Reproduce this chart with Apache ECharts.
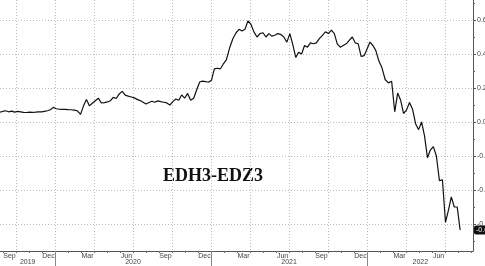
<!DOCTYPE html>
<html><head><meta charset="utf-8">
<script src="https://cdn.jsdelivr.net/npm/echarts@6/dist/echarts.min.js"></script>
<style>html,body{margin:0;padding:0;background:#fff}#c{width:485px;height:266px}</style>
</head><body><div id="c"></div>
<script>
// Weekly observations starting from this date
const startDate = '2019-08-24';
const values = [
0.057,0.062,0.066,0.060,0.064,0.058,0.062,0.060,0.057,0.056,
0.058,0.057,0.058,0.060,0.060,0.063,0.066,0.072,0.086,0.078,
0.075,0.074,0.074,0.073,0.072,0.070,0.066,0.045,0.095,0.133,
0.095,0.110,0.125,0.140,0.112,0.114,0.118,0.125,0.145,0.138,
0.165,0.180,0.158,0.152,0.147,0.142,0.133,0.126,0.116,0.106,
0.115,0.122,0.116,0.124,0.120,0.116,0.112,0.100,0.120,0.135,
0.128,0.159,0.140,0.168,0.128,0.140,0.190,0.235,0.240,0.238,
0.234,0.245,0.312,0.316,0.312,0.340,0.365,0.435,0.490,0.525,
0.545,0.535,0.545,0.595,0.575,0.530,0.500,0.520,0.525,0.500,
0.520,0.505,0.510,0.520,0.515,0.500,0.470,0.520,0.455,0.380,
0.410,0.400,0.450,0.440,0.465,0.460,0.465,0.490,0.510,0.530,
0.520,0.540,0.520,0.460,0.440,0.450,0.460,0.480,0.500,0.465,
0.460,0.385,0.390,0.430,0.470,0.450,0.420,0.360,0.320,0.250,
0.230,0.240,0.060,0.170,0.130,0.050,0.070,0.115,0.075,-0.010,
-0.045,0.000,-0.080,-0.210,-0.165,-0.145,-0.200,-0.345,-0.340,-0.590,
-0.520,-0.440,-0.500,-0.500,-0.635
];
const monthNames = ['Jan','Feb','Mar','Apr','May','Jun','Jul','Aug','Sep','Oct','Nov','Dec'];
const yTickValues = [-0.6,-0.4,-0.2,0,0.2,0.4,0.6];
const yMinorValues = [-0.7,-0.5,-0.3,-0.1,0.1,0.3,0.5,0.7];
const monthLabelNames = ['Sep','Dec','Mar','Jun','Sep','Dec','Mar','Jun','Sep','Dec','Mar','Jun'];
const yearLabels = ['2019','2020','2021','2022'];
const yearLabelPos = [9.9, 18, 30, 40.1];   // month-index positions (Jan 2019 = 0)
const yearBreaks = [12, 24, 36];
const titleText = 'EDH3-EDZ3';

// month index helpers (Jan 1 2019 = 0)
function monthIndex(d){
  const y=d.getUTCFullYear(), m=d.getUTCMonth(), day=d.getUTCDate();
  const dim=new Date(Date.UTC(y,m+1,0)).getUTCDate();
  return (y-2019)*12+m+(day-1)/dim;
}
const s0=new Date(startDate+'T00:00:00Z');
const dates=values.map((_,i)=>new Date(s0.getTime()+i*7*86400000));
const seriesData=values.map((v,i)=>[monthIndex(dates[i]),v]);

const xMin=7.77, xMax=44.15;
const quarterGrid=[]; for(let m=9;m<=42;m+=3) quarterGrid.push(m);
const monthTicks=[]; for(let m=8;m<=44;m++) monthTicks.push(m);
const monthLabelPos=monthLabelNames.map((_,i)=>8.5+3*i);
const yMin=-0.7588, yMax=0.7176;
const lastVal=values[values.length-1];
const font='"Liberation Sans", Arial, sans-serif';

const chart=echarts.init(document.getElementById('c'),null,{renderer:'canvas'});
chart.setOption({
  animation:false,
  backgroundColor:'#fff',
  grid:{left:0,right:12,top:0,bottom:15,containLabel:false,outerBoundsMode:'none'},
  xAxis:[
    {type:'value',min:xMin,max:xMax,position:'bottom',
     axisLine:{show:true,onZero:false,lineStyle:{color:'#555',width:1}},
     axisTick:{show:false,customValues:quarterGrid},
     splitLine:{show:true,lineStyle:{color:'#bdbdbd',width:1,type:[1,2]}},
     axisLabel:{customValues:monthLabelPos,fontSize:7,color:'#444',fontFamily:font,margin:2,
       formatter:v=>monthNames[Math.floor(v+0.001)%12]}},
    {type:'value',min:xMin,max:xMax,position:'bottom',
     axisLine:{show:false,onZero:false},splitLine:{show:false},axisLabel:{show:false},
     axisTick:{show:true,customValues:monthTicks,length:2,lineStyle:{color:'#666'}}},
    {type:'value',min:xMin,max:xMax,position:'bottom',
     axisLine:{show:false,onZero:false},splitLine:{show:false},
     axisTick:{show:true,customValues:yearBreaks,length:15,lineStyle:{color:'#888'}},
     axisLabel:{customValues:yearLabelPos,fontSize:7,color:'#444',fontFamily:font,margin:8,
       formatter:v=>yearLabels[yearLabelPos.indexOf(v)]}}
  ],
  yAxis:[
    {type:'value',position:'right',min:yMin,max:yMax,
     axisLine:{show:true,onZero:false,lineStyle:{color:'#555',width:1}},
     axisTick:{show:true,customValues:yTickValues,length:3,lineStyle:{color:'#555'}},
     splitLine:{show:true,lineStyle:{color:'#bdbdbd',width:1,type:[1,2]}},
     axisLabel:{customValues:yTickValues,fontSize:7,color:'#444',fontFamily:font,margin:4,
       formatter:v=>v.toFixed(2)}},
    {type:'value',position:'right',min:yMin,max:yMax,
     axisLine:{show:false,onZero:false},splitLine:{show:false},axisLabel:{show:false},
     axisTick:{show:true,customValues:yMinorValues,length:2,lineStyle:{color:'#666'}}},
    {type:'value',position:'right',min:yMin,max:yMax,
     axisLine:{show:false,onZero:false},splitLine:{show:false},axisTick:{show:false,customValues:[lastVal]},
     axisLabel:{customValues:[lastVal],fontSize:7,color:'#fff',fontFamily:font,margin:1,
       backgroundColor:'#111',padding:[1,2,1,2],borderRadius:2,formatter:v=>v.toFixed(3)}}
  ],
  series:[{type:'line',data:seriesData,xAxisIndex:0,yAxisIndex:0,showSymbol:false,
    lineStyle:{color:'#111',width:1.2},silent:true}],
  graphic:[{type:'text',left:163,top:167,
    style:{text:titleText,font:'bold 18px "Liberation Serif", "Times New Roman", serif',fill:'#111',
      shadowColor:'rgba(0,0,0,0.45)',shadowBlur:3,shadowOffsetX:2,shadowOffsetY:2}}]
});
</script></body></html>
